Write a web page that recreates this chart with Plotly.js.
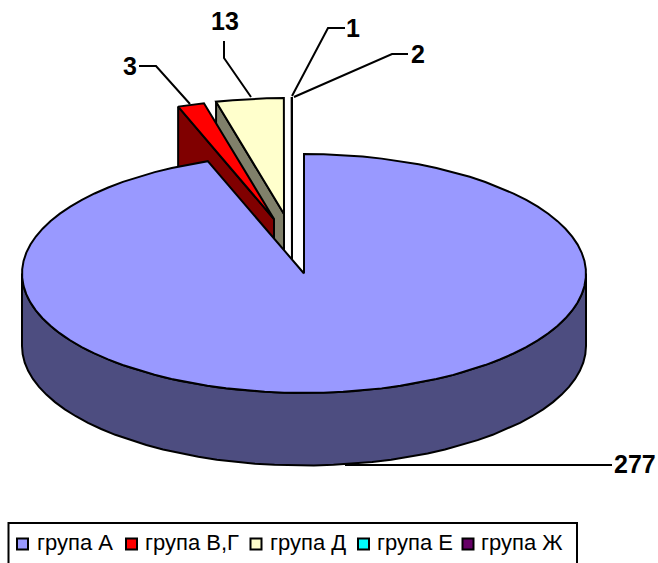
<!DOCTYPE html>
<html>
<head>
<meta charset="utf-8">
<script src="https://cdn.plot.ly/plotly-3.0.1.min.js"></script>
<style>html,body{margin:0;padding:0;background:#fff}#c{width:658px;height:563px}</style>
</head>
<body>
<div id="c"></div>
<script>
// ---- data ----
const categories = ['група А', 'група В,Г', 'група Д', 'група Е', 'група Ж'];
const values = [277, 3, 13, 1, 2];
const valueLabels = ['277', '3', '13', '1', '2'];

// ---- style ----
const topColors  = ['#9999FF', '#FF0000', '#FFFFCC', '#FFFFFF', '#FFFFFF'];
const sideColors = ['#4D4D80', '#800000', '#80806A', '#FFFFFF', '#FFFFFF'];
const legendColors = ['#9999FF', '#FF0000', '#FFFFCC', '#00FFFF', '#660066'];

// ---- layout of the pseudo-3D pie (page units) ----
const rx = 282, ry = 119.5, depth = 72.5;
// the source's projection does not draw slices in exact proportion: degrees per unit
const degPerUnit = [1.2276, 1.83, 1.104, 0.01, 0.01];
const radiusScale = [1, 1, 0.97, 1, 1];
const apexX = [304, 274, 284, 292, 292];
const apexY = [273.5, 219, 214, 216.5, 216.5];
const labelX = [634.5, 129.5, 224.5, 353, 417.5];
const labelY = [464, 66, 21, 28, 54];
const leaders = [
  [[612, 465], [345, 465]],
  [[139, 66], [156, 66], [190, 104]],
  [[224, 41], [224, 58], [251, 97]],
  [[345, 28], [328, 28], [292, 96]],
  [[408, 54], [392, 54], [294, 97]]
];
const legendMarkerX = [22.5, 131.5, 256, 363.5, 468];
const legendTextX = [37, 145, 270, 377, 481];
const legendMarkerY = 544;
const legendTextY = 544;

const rad = d => d * Math.PI / 180;
const px = (i, d) => apexX[i] + rx * radiusScale[i] * Math.sin(rad(d));
const py = (i, d) => apexY[i] - ry * radiusScale[i] * Math.cos(rad(d));

function arc(i, from, to, stepDeg) {
  const xs = [], ys = [];
  const n = Math.max(1, Math.round(Math.abs(to - from) / stepDeg));
  for (let k = 0; k <= n; k++) {
    const d = from + (to - from) * k / n;
    xs.push(px(i, d)); ys.push(py(i, d));
  }
  return [xs, ys];
}
const poly = (xs, ys, fill, name) => ({
  type: 'scatter', mode: 'lines', x: xs, y: ys, fill: 'toself', fillcolor: fill,
  line: {color: '#000', width: 2, shape: 'linear'}, hoverinfo: 'skip', showlegend: false, name
});

const traces = [];
// small exploded slices: walk counter-clockwise from 12 o'clock
let a = 0;
const spans = [];
for (let i = values.length - 1; i >= 1; i--) {
  const start = a, end = a - values[i] * degPerUnit[i];
  spans[i] = [start, end];
  a = end;
}
for (const i of [4, 3, 2, 1]) {
  const [s, e] = spans[i];
  // cut face
  traces.push(poly(
    [px(i, e), apexX[i], apexX[i], px(i, e), px(i, e)],
    [py(i, e), apexY[i], apexY[i] + depth, py(i, e) + depth, py(i, e)],
    sideColors[i], categories[i]));
  // top
  const [ax, ay] = arc(i, s, e, 4);
  traces.push(poly([apexX[i], ...ax, apexX[i]], [apexY[i], ...ay, apexY[i]], topColors[i], categories[i]));
}
// main slice: wall, then top
const sweep = values[0] * degPerUnit[0];
const [fx, fy] = arc(0, 90, 270, 4);
traces.push(poly(
  [...fx, ...fx.slice().reverse(), fx[0]],
  [...fy, ...fy.slice().reverse().map(v => v + depth), fy[0]],
  sideColors[0], categories[0]));
const [tx, ty] = arc(0, 0, sweep, 4);
traces.push(poly([apexX[0], ...tx, apexX[0]], [apexY[0], ...ty, apexY[0]], topColors[0], categories[0]));

// leader lines
leaders.forEach(l => traces.push({
  type: 'scatter', mode: 'lines', x: l.map(p => p[0]), y: l.map(p => p[1]),
  line: {color: '#000', width: 2}, hoverinfo: 'skip', showlegend: false
}));

// legend row
traces.push({
  type: 'scatter', mode: 'markers',
  x: legendMarkerX, y: categories.map(() => legendMarkerY),
  marker: {symbol: 'square', size: 11, color: legendColors, line: {color: '#000', width: 2}},
  hoverinfo: 'skip', showlegend: false
});
traces.push({
  type: 'scatter', mode: 'text',
  x: legendTextX, y: categories.map(() => legendTextY), text: categories,
  textposition: 'middle right',
  textfont: {family: 'Liberation Sans, Arial, sans-serif', size: 22, color: '#000'},
  hoverinfo: 'skip', showlegend: false
});

const annotations = values.map((v, i) => ({
  x: labelX[i], y: labelY[i], xref: 'x', yref: 'y', text: valueLabels[i], showarrow: false,
  font: {family: 'Liberation Sans, Arial, sans-serif', size: 25, color: '#000', weight: 700},
  xanchor: 'center', yanchor: 'middle'
}));

const hidden = {visible: false, showgrid: false, zeroline: false, fixedrange: true};
Plotly.newPlot('c', traces, {
  width: 658, height: 563,
  margin: {l: 0, r: 0, t: 0, b: 0},
  paper_bgcolor: '#fff', plot_bgcolor: '#fff',
  showlegend: false,
  xaxis: {...hidden, range: [0, 658]},
  yaxis: {...hidden, range: [563, 0]},
  annotations,
  shapes: [{type: 'path', xref: 'x', yref: 'y', path: 'M 8.5 570 L 8.5 523 L 577 523 L 577 570',
            line: {color: '#000', width: 2}}]
}, {displayModeBar: false, staticPlot: true});
</script>
</body>
</html>
